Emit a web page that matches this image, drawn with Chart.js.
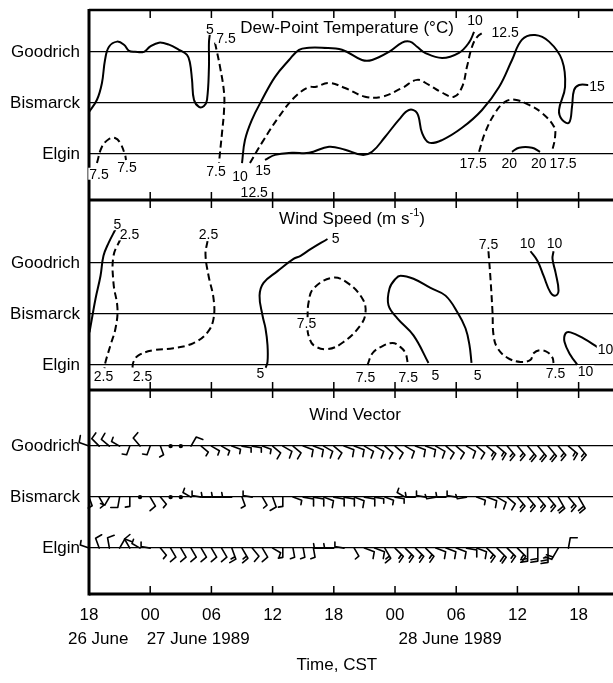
<!DOCTYPE html>
<html>
<head>
<meta charset="utf-8">
<script src="https://cdn.jsdelivr.net/npm/chart.js@4.4.1/dist/chart.umd.min.js"></script>
<style>
  body { margin: 0; background: #fff; }
  canvas { display: block; }
</style>
</head>
<body>
<canvas id="myChart" width="613" height="683"></canvas>
<script>
// time in hours after 18 CST 26 June 1989, stations as 1 = Elgin, 2 = Bismarck, 3 = Goodrich
var tickHours = [0, 6, 12, 18, 24, 30, 36, 42, 48]
var tickLabels = ['18', '00', '06', '12', '18', '00', '06', '12', '18']
var stations = ['Elgin', 'Bismarck', 'Goodrich']
var dateLabels = ['26 June', '27 June 1989', '28 June 1989']
var dateHours = [0.9, 10.7, 35.4]

// dew-point contours (°C), [hour, station]
var dew5 = [[0,1.82],[0.78,2.06],[1.27,2.39],[1.57,2.84],[1.96,3.10],[2.75,3.20],[3.43,3.14],[3.92,3.02],[4.51,3.0],[5.39,3.0],[5.98,3.10],[6.86,3.18],[7.84,3.14],[8.82,3.04],[9.61,2.94],[9.90,2.78],[10.10,2.45],[10.29,2.06],[10.78,1.92],[11.27,1.94],[11.57,2.06],[11.76,2.71],[11.76,3.18],[11.86,3.37]]
var dew75a = [[12.35,3.18],[12.84,2.71],[13.24,2.20],[13.24,1.86],[13.04,1.41],[12.84,1.02],[12.75,0.82]]
var dew75b = [[0.78,0.82],[1.27,1.14],[1.96,1.29],[2.55,1.31],[3.04,1.22],[3.53,0.98],[3.63,0.88]]
var dew10 = [[15.0,0.82],[15.29,1.27],[15.98,1.67],[16.96,2.06],[18.24,2.51],[19.61,2.84],[20.59,3.04],[21.57,3.08],[22.84,3.08],[24.80,3.04],[26.76,2.84],[27.75,2.84],[29.41,3.0],[30.69,3.18],[31.47,3.20],[32.16,3.10],[32.94,2.98],[34.61,2.88],[36.27,2.98],[37.25,3.18],[37.75,3.39]]
var dew125 = [[15.78,0.82],[16.96,1.22],[18.63,1.73],[20.2,2.12],[21.57,2.31],[22.16,2.31],[23.53,2.39],[25.10,2.29],[27.06,2.12],[28.73,2.12],[30.69,2.29],[32.16,2.45],[33.33,2.35],[34.61,2.20],[35.78,2.12],[36.57,2.31],[37.06,2.71],[37.55,3.10],[38.04,3.29],[38.73,3.39]]
var dew15 = [[17.25,0.88],[18.24,0.98],[19.90,1.02],[21.57,1.02],[23.53,1.14],[25.10,1.08],[26.76,0.98],[27.75,1.04],[29.02,1.33],[30.39,1.67],[31.37,1.86],[32.16,1.80],[32.65,1.41],[33.33,1.22],[34.61,1.27],[36.57,1.51],[38.53,1.86],[40.20,2.31],[41.47,2.84],[42.45,3.24],[43.73,3.33],[45.10,3.20],[46.37,2.84],[46.67,2.31],[46.08,1.86],[46.37,1.67],[47.06,1.61],[47.35,1.92],[47.55,2.25],[48.04,2.35],[49.02,2.35]]
var dew175 = [[38.24,1.04],[38.82,1.41],[39.80,1.80],[40.78,2.02],[41.76,2.06],[43.14,1.96],[44.41,1.80],[45.59,1.53],[45.69,1.33],[45.39,1.04]]
var dew20 = [[41.47,1.04],[42.16,1.12],[43.43,1.12],[44.22,1.04]]
var dewSolid = [dew5, dew10, dew15, dew20]
var dewDashed = [dew75a, dew75b, dew125, dew175]
var dewLabels = [[11.86,3.45,'5'],[13.43,3.27,'7.5'],[12.45,0.67,'7.5'],[0.98,0.61,'7.5'],[3.73,0.73,'7.5'],[14.8,0.57,'10'],[37.84,3.63,'10'],[16.2,0.25,'12.5'],[40.8,3.39,'12.5'],[17.06,0.69,'15'],[49.8,2.33,'15'],[37.65,0.82,'17.5'],[46.47,0.82,'17.5'],[41.2,0.82,'20'],[44.1,0.82,'20']]

// wind speed contours (m/s), [hour, station]
var ws5a = [[2.60,3.66],[1.91,3.39],[1.42,3.14],[1.13,2.75],[0.64,2.30],[0.34,1.97],[0.05,1.64]]
var ws25a = [[3.09,3.47],[2.40,3.14],[2.40,2.61],[2.79,2.11],[2.60,1.72],[2.11,1.39],[1.62,1.06],[1.52,0.94]]
var ws25b = [[11.62,3.43],[11.42,3.17],[11.72,2.75],[12.21,2.30],[12.21,1.91],[11.62,1.64],[10.25,1.43],[8.28,1.33],[6.32,1.29],[4.85,1.19],[4.36,1.06],[4.26,0.95]]
var ws5b = [[23.38,3.47],[21.72,3.27],[20.74,3.14],[20.05,3.08],[18.48,2.84],[17.11,2.61],[16.72,2.36],[17.01,1.97],[17.30,1.72],[17.50,1.39],[17.50,1.06],[17.30,0.94]]
var ws75a = [[21.42,1.91],[21.52,2.22],[22.01,2.50],[23.87,2.71],[25.34,2.61],[26.81,2.30],[27.11,2.03],[26.62,1.78],[24.95,1.45],[23.38,1.31],[22.01,1.39],[21.52,1.58],[21.42,1.68]]
var ws5c = [[33.28,1.04],[31.81,1.58],[30.25,1.91],[29.36,2.17],[29.46,2.50],[30.05,2.69],[30.54,2.75],[31.81,2.69],[33.48,2.51],[34.95,2.36],[36.13,2.03],[36.91,1.72],[37.30,1.39],[37.50,1.04]]
var ws75b = [[27.30,1.00],[27.79,1.23],[28.58,1.35],[29.75,1.43],[30.54,1.35],[31.03,1.23],[31.23,1.06]]
var ws75c = [[39.16,3.23],[39.36,2.69],[39.56,2.03],[39.66,1.58],[40.05,1.33],[41.03,1.14],[42.30,1.06],[43.28,1.10],[43.58,1.23],[44.26,1.29],[44.95,1.25],[45.44,1.14],[45.54,1.04]]
var ws10a = [[43.28,3.23],[43.97,3.04],[44.56,2.75],[45.24,2.42],[45.74,2.36],[46.03,2.46],[45.74,2.81],[45.44,3.08],[45.54,3.23]]
var ws10b = [[49.85,1.35],[48.48,1.52],[47.21,1.64],[46.72,1.62],[46.62,1.45],[47.21,1.19],[47.89,1.00]]
var wsSolid = [ws5a, ws5b, ws5c, ws10a, ws10b]
var wsDashed = [ws25a, ws25b, ws75a, ws75b, ws75c]
var wsLabels = [[2.79,3.76,'5'],[3.97,3.56,'2.5'],[1.42,0.79,'2.5'],[11.72,3.56,'2.5'],[5.24,0.79,'2.5'],[24.17,3.49,'5'],[16.81,0.84,'5'],[21.32,1.82,'7.5'],[33.97,0.81,'5'],[38.09,0.81,'5'],[27.1,0.77,'7.5'],[31.3,0.77,'7.5'],[39.16,3.37,'7.5'],[45.73,0.84,'7.5'],[42.99,3.39,'10'],[45.63,3.39,'10'],[50.64,1.31,'10'],[48.68,0.88,'10']]

// hourly wind: direction (deg, from) and speed (m/s), 0 speed = calm
var goodrichDir = [290,315,310,300,200,320,200,160,0,0,30,130,120,120,110,100,100,110,130,120,130,110,110,120,130,110,110,120,120,130,130,120,110,110,120,130,130,120,130,130,130,140,140,140,140,140,140,130,140]
var goodrichSpd = [5,5,5,2.5,2.5,5,2.5,2.5,0,0,5,2.5,2.5,2.5,2.5,2.5,2.5,2.5,5,5,5,5,5,5,5,5,5,5,5,5,5,5,5,5,5,5,5,5,5,7.5,7.5,7.5,7.5,10,10,10,7.5,7.5,7.5]
var bismarckDir = [160,150,210,190,180,0,150,140,0,0,300,280,270,270,270,160,280,150,160,180,110,100,100,110,100,100,110,100,100,110,100,300,270,280,260,270,280,260,110,110,120,130,140,140,140,140,150,140,150]
var bismarckSpd = [2.5,2.5,2.5,5,2.5,0,5,2.5,0,0,2.5,2.5,2.5,2.5,2.5,2.5,2.5,2.5,5,2.5,2.5,5,5,5,5,5,5,5,2.5,2.5,2.5,2.5,2.5,2.5,2.5,2.5,2.5,2.5,2.5,5,5,5,7.5,7.5,7.5,7.5,10,7.5,10]
var elginDir = [290,340,350,30,330,300,280,140,150,150,150,150,150,150,160,150,140,150,120,180,170,170,170,270,270,280,150,110,110,150,135,135,135,135,110,110,110,100,110,135,135,135,135,180,180,180,210,10,null]
var elginSpd = [2.5,5,5,5,5,2.5,2.5,2.5,5,5,5,5,5,5,7.5,7.5,5,5,2.5,2.5,2.5,2.5,2.5,2.5,2.5,2.5,2.5,5,5,7.5,7.5,7.5,7.5,7.5,5,5,5,5,5,7.5,10,7.5,7.5,10,10,12.5,10,5,null]

// panel layout on the shared y axis (1 unit = station spacing)
var vectorBase = 0.9, speedBase = 4.49, dewBase = 8.63
var dividers = [4.0, 7.725]
var yTop = 11.45
var fam = "'Liberation Sans', Arial, sans-serif"

var stationTicks = []
;[vectorBase, speedBase, dewBase].forEach(function(b) { stationTicks.push(b, b + 1, b + 2) })

function toXY(pts, base) {
  return pts.map(function(p) { return {x: p[0], y: base + p[1] - 1} })
}
function contour(pts, base, dashed) {
  return {
    data: toXY(pts, base),
    showLine: true,
    borderColor: '#000',
    borderWidth: 2,
    borderDash: dashed ? [7, 4] : [],
    tension: 0.4,
    pointRadius: 0,
    fill: false
  }
}
var datasets = []
dewSolid.forEach(function(c) { datasets.push(contour(c, dewBase, false)) })
dewDashed.forEach(function(c) { datasets.push(contour(c, dewBase, true)) })
wsSolid.forEach(function(c) { datasets.push(contour(c, speedBase, false)) })
wsDashed.forEach(function(c) { datasets.push(contour(c, speedBase, true)) })

function drawBarb(ctx, x, y, dir, spd) {
  if (dir === null || spd === null) return
  if (spd === 0) {
    ctx.beginPath(); ctx.arc(x, y, 2.2, 0, 2 * Math.PI); ctx.fill()
    return
  }
  var a = dir * Math.PI / 180
  var ux = Math.sin(a), uy = -Math.cos(a)
  var len = 8 + 0.5 * spd
  var ex = x + ux * len, ey = y + uy * len
  ctx.beginPath()
  ctx.moveTo(x, y); ctx.lineTo(ex, ey)
  // feathers turned 80 degrees clockwise from the staff
  var fa = Math.atan2(uy, ux) + 80 * Math.PI / 180
  var fx = Math.cos(fa), fy = Math.sin(fa)
  var rest = spd, k = 0
  while (rest >= 5) {
    var bx = ex - ux * k * 2.6, by = ey - uy * k * 2.6
    ctx.moveTo(bx, by); ctx.lineTo(bx + fx * 7, by + fy * 7)
    rest -= 5; k++
  }
  if (rest >= 2.5) {
    var hx = ex - ux * k * 2.6, hy = ey - uy * k * 2.6
    ctx.moveTo(hx, hy); ctx.lineTo(hx + fx * 4.5, hy + fy * 4.5)
  }
  ctx.stroke()
}

function hline(ctx, x1, x2, y, w) {
  ctx.lineWidth = w
  ctx.beginPath(); ctx.moveTo(x1, y); ctx.lineTo(x2, y); ctx.stroke()
}

var framePlugin = {
  id: 'frame',
  afterDatasetsDraw: function(chart) {
    var ctx = chart.ctx, a = chart.chartArea
    var x = chart.scales.x, y = chart.scales.y
    ctx.save()
    ctx.strokeStyle = '#000'
    ctx.fillStyle = '#000'

    // frame
    hline(ctx, a.left, a.right, a.top, 2.5)
    dividers.forEach(function(v) { hline(ctx, a.left, a.right, y.getPixelForValue(v), 3) })
    hline(ctx, a.left, a.right, a.bottom, 3)
    ctx.lineWidth = 3
    ctx.beginPath(); ctx.moveTo(a.left, a.top - 1); ctx.lineTo(a.left, a.bottom + 1.5); ctx.stroke()

    // inward tick marks
    ctx.lineWidth = 1.5
    tickHours.forEach(function(h) {
      if (h === 0) return
      var px = x.getPixelForValue(h)
      ctx.beginPath()
      ctx.moveTo(px, a.top); ctx.lineTo(px, a.top + 8)
      dividers.forEach(function(v) {
        var py = y.getPixelForValue(v)
        ctx.moveTo(px, py - 8); ctx.lineTo(px, py + 8)
      })
      ctx.moveTo(px, a.bottom); ctx.lineTo(px, a.bottom - 8)
      ctx.stroke()
    })

    // wind barbs
    ctx.lineWidth = 1.6
    ctx.lineCap = 'round'
    var rows = [[goodrichDir, goodrichSpd, 3], [bismarckDir, bismarckSpd, 2], [elginDir, elginSpd, 1]]
    rows.forEach(function(r) {
      var py = y.getPixelForValue(vectorBase + r[2] - 1)
      r[0].forEach(function(d, i) {
        drawBarb(ctx, x.getPixelForValue(i), py, d, r[1][i])
      })
    })
    ctx.lineCap = 'butt'

    // contour labels
    ctx.font = '14px ' + fam
    ctx.textAlign = 'center'
    ctx.textBaseline = 'middle'
    function labels(list, base) {
      list.forEach(function(l) {
        var px = x.getPixelForValue(l[0]), py = y.getPixelForValue(base + l[1] - 1)
        var w = ctx.measureText(l[2]).width
        ctx.fillStyle = '#fff'
        ctx.fillRect(px - w / 2 - 1, py - 6, w + 2, 12)
        ctx.fillStyle = '#000'
        ctx.fillText(l[2], px, py + 1)
      })
    }
    labels(dewLabels, dewBase)
    labels(wsLabels, speedBase)

    // panel titles
    var cx = (a.left + a.right) / 2
    ctx.font = '17px ' + fam
    ctx.fillText('Dew-Point Temperature (\u00B0C)', cx - 4, a.top + 18)
    ctx.fillText('Wind Vector', cx + 4, y.getPixelForValue(dividers[0]) + 25)
    // wind speed title with superscript
    var ty = y.getPixelForValue(dividers[1]) + 19
    var t1 = 'Wind Speed (m s', t2 = '-1', t3 = ')'
    ctx.font = '17px ' + fam
    var w1 = ctx.measureText(t1).width, w3 = ctx.measureText(t3).width
    ctx.font = '11px ' + fam
    var w2 = ctx.measureText(t2).width
    var sx = cx + 1 - (w1 + w2 + w3) / 2
    ctx.textAlign = 'left'
    ctx.font = '17px ' + fam
    ctx.fillText(t1, sx, ty)
    ctx.font = '11px ' + fam
    ctx.fillText(t2, sx + w1, ty - 6)
    ctx.font = '17px ' + fam
    ctx.fillText(t3, sx + w1 + w2, ty)

    // date lines and axis title
    ctx.textAlign = 'center'
    dateLabels.forEach(function(t, i) {
      ctx.fillText(t, x.getPixelForValue(dateHours[i]), 639)
    })
    ctx.fillText('Time, CST', x.getPixelForValue(24.3), 665)
    ctx.restore()
  }
}

var chart = new Chart(document.getElementById('myChart'), {
  type: 'scatter',
  data: { datasets: datasets },
  options: {
    responsive: false,
    animation: false,
    layout: { padding: { top: 10, right: 0, bottom: 0, left: 0 } },
    plugins: { legend: { display: false }, tooltip: { enabled: false } },
    scales: {
      x: {
        type: 'linear',
        min: 0,
        max: 51.37,
        afterBuildTicks: function(s) { s.ticks = tickHours.map(function(v) { return {value: v} }) },
        afterFit: function(s) { s.height = 89; s.paddingLeft = 0; s.paddingRight = 0 },
        grid: { display: false, drawTicks: false },
        border: { display: false },
        ticks: {
          autoSkip: false,
          maxRotation: 0,
          padding: 11,
          color: '#000',
          font: { family: fam, size: 17 },
          callback: function(v, i) { return tickLabels[i] }
        }
      },
      y: {
        type: 'linear',
        min: 0,
        max: yTop,
        afterBuildTicks: function(s) { s.ticks = stationTicks.map(function(v) { return {value: v} }) },
        afterFit: function(s) { s.width = 89; s.paddingTop = 0; s.paddingBottom = 0 },
        grid: { color: '#000', lineWidth: 1.3, drawTicks: false },
        border: { display: false },
        ticks: {
          padding: 9,
          color: '#000',
          font: { family: fam, size: 17 },
          callback: function(v, i) { return stations[i % 3] }
        }
      }
    }
  },
  plugins: [framePlugin]
});
</script>
</body>
</html>
